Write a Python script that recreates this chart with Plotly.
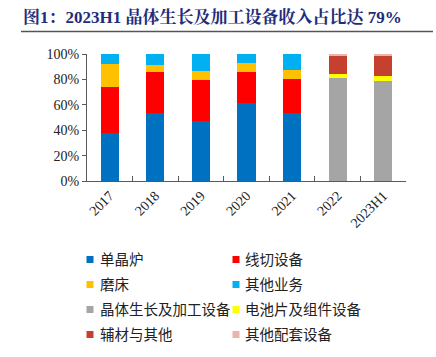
import plotly.graph_objects as go

years = ["2017", "2018", "2019", "2020", "2021", "2022", "2023H1"]
single_crystal = [38.1, 53.8, 47.3, 61.4, 53.8, None, None]
wire_saw = [35.8, 31.8, 32.3, 24.5, 26.6, None, None]
grinder = [18.5, 5.8, 7.1, 6.8, 6.8, None, None]
other_biz = [7.6, 8.6, 13.3, 7.3, 12.8, None, None]
crystal_growth = [None, None, None, None, None, 80.9, 78.6]
cell_module = [None, None, None, None, None, 3.7, 4.2]
materials = [None, None, None, None, None, 14.4, 16.2]
other_equip = [None, None, None, None, None, 1.0, 1.0]
y_ticks = [0, 20, 40, 60, 80, 100]
y_tick_text = ["0%", "20%", "40%", "60%", "80%", "100%"]

series = [
    ("单晶炉", single_crystal, "#0070C0"),
    ("线切设备", wire_saw, "#FF0000"),
    ("磨床", grinder, "#FFC000"),
    ("其他业务", other_biz, "#00B0F0"),
    ("晶体生长及加工设备", crystal_growth, "#A5A5A5"),
    ("电池片及组件设备", cell_module, "#FFFF00"),
    ("辅材与其他", materials, "#C5402F"),
    ("其他配套设备", other_equip, "#EAB5AC"),
]

fig = go.Figure()
for name, vals, color in series:
    fig.add_trace(go.Bar(x=years, y=vals, name=name, marker_color=color,
                         marker_line_width=0, width=0.4, showlegend=False))

W, H = 436, 357
ml, mr, mt, mb = 87, 30, 54, 176
pw, ph = W - ml - mr, H - mt - mb


def px(x):
    return (x - ml) / pw


def py(y):
    return (H - mb - y) / ph


fig.update_layout(
    width=W, height=H, barmode="stack",
    margin=dict(l=ml, r=mr, t=mt, b=mb, autoexpand=False),
    plot_bgcolor="white", paper_bgcolor="white",
    font=dict(family="Liberation Serif", size=14, color="#222222"),
    showlegend=False,
    xaxis=dict(showline=True, linecolor="#595959", linewidth=1,
               ticks="inside", ticklen=5, tickcolor="#595959", tickson="boundaries",
               tickangle=-45, tickfont=dict(family="Liberation Serif", size=14)),
    yaxis=dict(range=[0, 100], tickvals=y_ticks, ticktext=y_tick_text,
               showline=True, linecolor="#595959", linewidth=1, showgrid=False,
               ticks="outside", ticklen=4, tickcolor="#595959", zeroline=False,
               tickfont=dict(family="Liberation Serif", size=14)),
)

# Legend (two columns, row-major order)
col_sq_x = [86.5, 232.5]
col_txt_x = [98, 243]
row_y0, row_dy, sq = 259.5, 25, 7
for i, (name, _, color) in enumerate(series):
    c, r = i % 2, i // 2
    cy = row_y0 + r * row_dy
    fig.add_shape(type="rect", xref="paper", yref="paper",
                  x0=px(col_sq_x[c]), x1=px(col_sq_x[c] + sq),
                  y0=py(cy - sq / 2), y1=py(cy + sq / 2),
                  fillcolor=color, line_width=0)
    fig.add_annotation(text=name, xref="paper", yref="paper",
                       x=px(col_txt_x[c]), xanchor="left", y=py(cy - 1), yanchor="middle",
                       showarrow=False,
                       font=dict(family="Noto Sans CJK SC", size=14.5, color="#222222"))

fig.add_annotation(text="<b>图1：2023H1 晶体生长及加工设备收入占比达 79%</b>",
                   xref="paper", yref="paper", x=px(21), xanchor="left",
                   y=py(17), yanchor="middle", showarrow=False,
                   font=dict(family="Liberation Serif, Noto Serif CJK SC, Noto Sans CJK SC",
                             size=17, color="#1F2D7A"))
fig.add_shape(type="line", xref="paper", yref="paper",
              x0=px(21), x1=px(433), y0=py(31.5), y1=py(31.5),
              line=dict(color="#555555", width=1.5))
fig.write_html("out.html", config={"displayModeBar": False},
               post_script="document.body.style.margin='0';")
